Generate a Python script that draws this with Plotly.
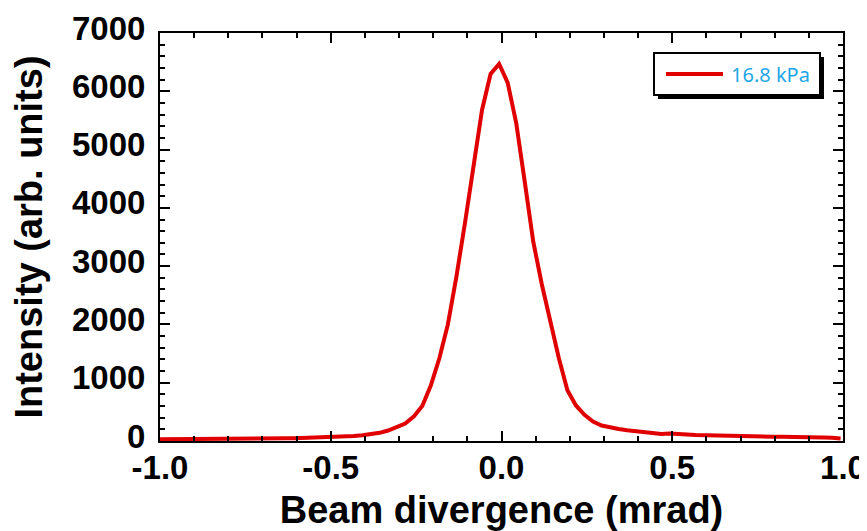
import plotly.graph_objects as go

divergence = [-1.0, -0.982, -0.957, -0.932, -0.907, -0.882, -0.857, -0.832, -0.807, -0.782,
              -0.757, -0.732, -0.707, -0.682, -0.657, -0.632, -0.607, -0.582, -0.557, -0.532,
              -0.507, -0.482, -0.457, -0.432, -0.407, -0.382, -0.357, -0.332, -0.307, -0.282,
              -0.257, -0.232, -0.207, -0.182, -0.157, -0.132, -0.107, -0.082, -0.057, -0.032,
              -0.007, 0.018, 0.043, 0.068, 0.093, 0.118, 0.143, 0.168, 0.193, 0.218,
              0.243, 0.268, 0.293, 0.318, 0.343, 0.368, 0.393, 0.418, 0.443, 0.468,
              0.493, 0.518, 0.543, 0.568, 0.593, 0.618, 0.643, 0.668, 0.693, 0.718,
              0.743, 0.768, 0.793, 0.818, 0.843, 0.868, 0.893, 0.918, 0.943, 0.968, 0.993]
intensity = [30, 30, 31, 32, 33, 33, 34, 35, 36, 37,
             38, 39, 40, 42, 44, 46, 49, 52, 55, 58,
             62, 67, 74, 84, 100, 118, 140, 180, 235, 300,
             420, 600, 950, 1420, 2000, 2820, 3740, 4750, 5680, 6296,
             6468, 6150, 5460, 4450, 3420, 2690, 2030, 1420, 870, 610,
             450, 335, 265, 230, 205, 185, 165, 145, 125, 122,
             130, 128, 112, 103, 98, 95, 90, 86, 83, 80,
             77, 75, 75, 74, 74, 72, 70, 66, 62, 55, 45]
series_name = "16.8 kPa"
x_ticks = [-1.0, -0.5, 0.0, 0.5, 1.0]
x_tick_labels = ["-1.0", "-0.5", "0.0", "0.5", "1.0"]
y_ticks = [0, 1000, 2000, 3000, 4000, 5000, 6000, 7000]

fig = go.Figure()
fig.add_trace(go.Scatter(x=divergence, y=intensity, mode="lines", name=series_name,
                         line=dict(color="#e00000", width=4), showlegend=False))

font_family = "Liberation Sans, Arial, sans-serif"
axis_common = dict(
    showline=True, linecolor="black", linewidth=2, mirror="ticks",
    ticks="inside", ticklen=10, tickwidth=1.5, tickcolor="black",
    showgrid=False, zeroline=False, automargin=False, ticklabeloverflow="allow",
    tickfont=dict(family=font_family, size=33, color="black", weight="bold"),
)
fig.update_xaxes(range=[-1, 1], tickvals=x_ticks, ticktext=x_tick_labels, ticklabelstandoff=-4,
                 minor=dict(dtick=0.1, ticks="inside", ticklen=5, tickcolor="black", tickwidth=1.5),
                 title=dict(text="Beam divergence (mrad)", standoff=18,
                            font=dict(family=font_family, size=38, color="black", weight="bold")),
                 **axis_common)
fig.update_yaxes(range=[0, 7000], tickvals=y_ticks, ticklabelstandoff=6, ticklabelshift=-5,
                 minor=dict(dtick=200, ticks="inside", ticklen=5, tickcolor="black", tickwidth=1.5),
                 title=dict(text="Intensity (arb. units)", standoff=20,
                            font=dict(family=font_family, size=38, color="black", weight="bold")),
                 **axis_common)

# legend drawn in paper coordinates (plot area: x 160..843 px, y 33..441 px)
def px_x(p):
    return (p - 160) / 683

def px_y(p):
    return (441 - p) / 408

fig.add_shape(type="rect", xref="paper", yref="paper",
              x0=px_x(658), x1=px_x(824), y0=px_y(99), y1=px_y(57),
              fillcolor="black", line=dict(width=0))
fig.add_shape(type="rect", xref="paper", yref="paper",
              x0=px_x(654), x1=px_x(820), y0=px_y(95), y1=px_y(53),
              fillcolor="white", line=dict(color="black", width=2))
fig.add_shape(type="line", xref="paper", yref="paper",
              x0=px_x(666), x1=px_x(723), y0=px_y(74), y1=px_y(74),
              line=dict(color="#e00000", width=4))
fig.add_annotation(xref="paper", yref="paper", x=px_x(729), y=px_y(74),
                   xanchor="left", yanchor="middle", showarrow=False, text=series_name,
                   font=dict(family="Noto Sans, sans-serif", size=20, color="#1ea7e6"))

# the page places the figure 8 px from the top-left corner
fig.update_layout(
    width=859, height=523,
    margin=dict(l=152, r=24, t=25, b=90),
    plot_bgcolor="white", paper_bgcolor="white",
    showlegend=False,
)

fig.write_html("out.html")
